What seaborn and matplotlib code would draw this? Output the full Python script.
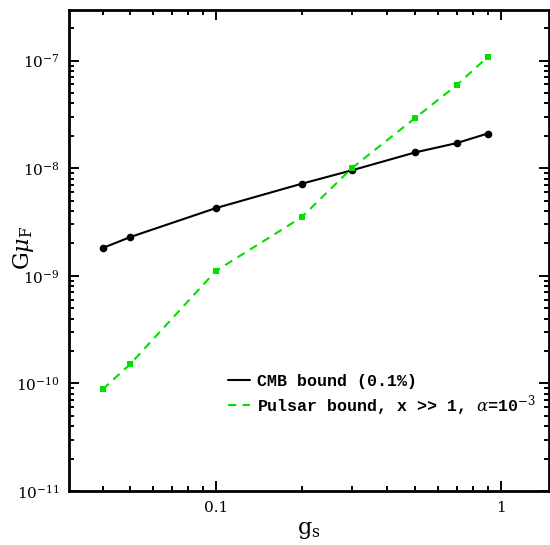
import numpy as np
import pandas as pd
import matplotlib
matplotlib.use("Agg")
import matplotlib.pyplot as plt
import matplotlib.ticker as mticker
import seaborn as sns

# values
gs = [0.04, 0.05, 0.1, 0.2, 0.3, 0.5, 0.7, 0.9]
cmb_bound = [1.81e-9, 2.29e-9, 4.26e-9, 7.17e-9, 9.55e-9, 1.40e-8, 1.71e-8, 2.10e-8]
pulsar_bound = [8.8e-11, 1.51e-10, 1.11e-9, 3.5e-9, 1.0e-8, 2.92e-8, 5.9e-8, 1.08e-7]

cmb_label = "CMB bound (0.1%)"
pulsar_label = r"Pulsar bound, x >> 1, $\alpha$=10$^{-3}$"

sns.set_style("ticks")
plt.rcParams["font.family"] = ["DejaVu Serif"]
plt.rcParams["mathtext.fontset"] = "dejavuserif"
plt.rcParams["text.color"] = "black"
plt.rcParams["axes.labelcolor"] = "black"
plt.rcParams["xtick.color"] = "black"
plt.rcParams["ytick.color"] = "black"

df = pd.DataFrame({"gs": gs, "cmb": cmb_bound, "pulsar": pulsar_bound})

fig = plt.figure(figsize=(5.5, 5.45), dpi=100)
ax = fig.add_axes([0.1255, 0.099, 0.873, 0.8826])

sns.lineplot(data=df, x="gs", y="cmb", ax=ax, color="black", lw=1.5,
             marker="o", markersize=5.5, markeredgewidth=0, label=cmb_label)
sns.lineplot(data=df, x="gs", y="pulsar", ax=ax, color="#00e000", lw=1.5,
             linestyle=(0, (4, 3)), marker="s", markersize=4.5,
             markeredgewidth=0, label=pulsar_label)

ax.set_xscale("log")
ax.set_yscale("log")
ax.set_xlim(0.0305, 1.48)
ax.set_ylim(1e-11, 2.95e-7)

ax.xaxis.set_major_locator(mticker.FixedLocator([0.1, 1]))
ax.xaxis.set_major_formatter(mticker.FixedFormatter(["0.1", "1"]))
ax.xaxis.set_minor_locator(mticker.LogLocator(base=10, subs=np.arange(2, 10)))
ax.xaxis.set_minor_formatter(mticker.NullFormatter())
ax.yaxis.set_major_locator(mticker.LogLocator(base=10, numticks=10))
ax.yaxis.set_minor_locator(mticker.LogLocator(base=10, subs=np.arange(2, 10), numticks=10))
ax.yaxis.set_minor_formatter(mticker.NullFormatter())

for s in ax.spines.values():
    s.set_linewidth(2.0)
    s.set_color("black")
ax.tick_params(which="both", direction="in", top=True, right=True, width=1.4,
               labelsize=11, pad=7)
ax.tick_params(which="major", length=7.5)
ax.tick_params(which="minor", length=3.8)

ax.set_xlabel(r"g$_{\rm s}$", fontsize=16, labelpad=3)
ax.set_ylabel(r"G$\mu_{\rm F}$", fontsize=16)
ax.yaxis.set_label_coords(-0.068, 0.505)

leg = ax.legend(loc="upper left", bbox_to_anchor=(0.331, 0.244), frameon=False,
                borderpad=0, borderaxespad=0,
                prop={"family": "Liberation Mono", "weight": "bold", "size": 12},
                handlelength=1.3, handletextpad=0.45, labelspacing=0.24)
for h in leg.get_lines():
    h.set_marker("")

fig.savefig("out.png", dpi=100)
